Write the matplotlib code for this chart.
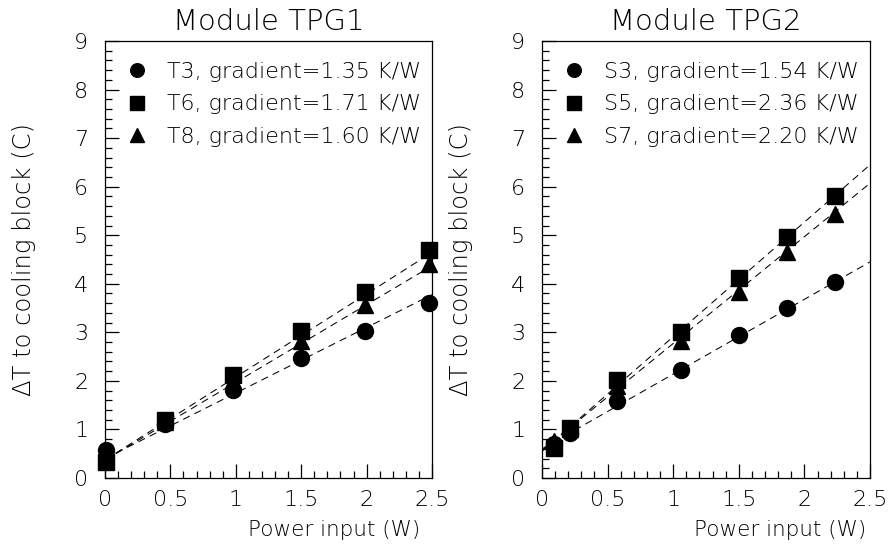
import numpy as np
import matplotlib
matplotlib.use("Agg")
import matplotlib.pyplot as plt
from matplotlib.ticker import MultipleLocator

plt.rcParams['font.family'] = ['DejaVu Sans']
plt.rcParams['font.weight'] = 'light'
plt.rcParams['axes.titleweight'] = 'light'
plt.rcParams['axes.labelweight'] = 'light'
plt.rcParams['mathtext.default'] = 'regular'

# ---- data ----
titles = ["Module TPG1", "Module TPG2"]

x_tpg1 = [0.01, 0.46, 0.98, 1.50, 1.99, 2.48]
t3 = [0.58, 1.11, 1.81, 2.48, 3.03, 3.60]
t6 = [0.33, 1.19, 2.12, 3.03, 3.84, 4.70]
t8 = [0.45, 1.15, 2.00, 2.82, 3.56, 4.40]
labels_tpg1 = ["T3, gradient=1.35 K/W", "T6, gradient=1.71 K/W", "T8, gradient=1.60 K/W"]
slopes_tpg1 = [1.35, 1.71, 1.60]
intercepts_tpg1 = [0.40, 0.37, 0.37]

x_tpg2 = [0.09, 0.21, 0.57, 1.06, 1.50, 1.87, 2.23]
s3 = [0.70, 0.92, 1.59, 2.22, 2.95, 3.50, 4.04]
s5 = [0.62, 1.03, 2.02, 3.01, 4.12, 4.96, 5.80]
s7 = [0.76, 1.00, 1.90, 2.82, 3.83, 4.65, 5.44]
labels_tpg2 = ["S3, gradient=1.54 K/W", "S5, gradient=2.36 K/W", "S7, gradient=2.20 K/W"]
slopes_tpg2 = [1.54, 2.36, 2.20]
intercepts_tpg2 = [0.60, 0.55, 0.57]

markers = ["o", "s", "^"]
xlabel = "Power input (W)"
ylabel = "ΔT to cooling block (C)"
xlim = (0, 2.5)
ylim = (0, 9)

fig = plt.figure(figsize=(8.91, 5.47), dpi=100)
W, H = 891, 547
ax1 = fig.add_axes([105 / W, 1 - 478 / H, 327 / W, 437 / H])
ax2 = fig.add_axes([542 / W, 1 - 478 / H, 328 / W, 437 / H])

panels = [
    (ax1, titles[0], x_tpg1, [t3, t6, t8], labels_tpg1, slopes_tpg1, intercepts_tpg1, 0.965),
    (ax2, titles[1], x_tpg2, [s3, s5, s7], labels_tpg2, slopes_tpg2, intercepts_tpg2, 0.99),
]

for ax, title, xs, series, labels, slopes, icpts, xlab_x in panels:
    xl = np.array(xlim)
    for k in range(3):
        ax.plot(xl, icpts[k] + slopes[k] * xl, color="black", lw=0.75,
                linestyle=(0, (7, 5)), zorder=2)
    for k in range(3):
        ax.plot(xs, series[k], linestyle="none", marker=markers[k], color="black",
                markersize=11.5, label=labels[k], zorder=3, clip_on=False)
    ax.set_xlim(*xlim)
    ax.set_ylim(*ylim)
    ax.xaxis.set_major_locator(MultipleLocator(0.5))
    ax.xaxis.set_minor_locator(MultipleLocator(0.1))
    ax.yaxis.set_major_locator(MultipleLocator(1))
    ax.yaxis.set_minor_locator(MultipleLocator(0.2))
    ax.set_xticks([0, 0.5, 1, 1.5, 2, 2.5])
    ax.set_xticklabels(["0", "0.5", "1", "1.5", "2", "2.5"])
    ax.tick_params(axis="both", which="both", direction="in", top=False, right=False,
                   width=0.9, color="black")
    ax.tick_params(axis="x", which="major", length=10, pad=9, labelsize=16)
    ax.tick_params(axis="y", which="major", length=10, pad=12, labelsize=16)
    ax.tick_params(axis="both", which="minor", length=5)
    for sp in ax.spines.values():
        sp.set_linewidth(0.9)
        sp.set_color("black")
    ax.set_title(title, fontsize=21, pad=8)
    ax.set_xlabel(xlabel, fontsize=15.5, ha="right")
    ax.xaxis.set_label_coords(xlab_x, -0.095)
    ax.set_ylabel(ylabel, fontsize=17.5)
    ax.yaxis.set_label_coords(-0.21, 0.5)
    ax.legend(loc="upper left", frameon=False, fontsize=16, handlelength=1.0,
              handletextpad=0.85, labelspacing=0.55, borderaxespad=0.5, borderpad=0.45,
              numpoints=1, markerscale=0.85)

fig.savefig("out.png", dpi=100)
